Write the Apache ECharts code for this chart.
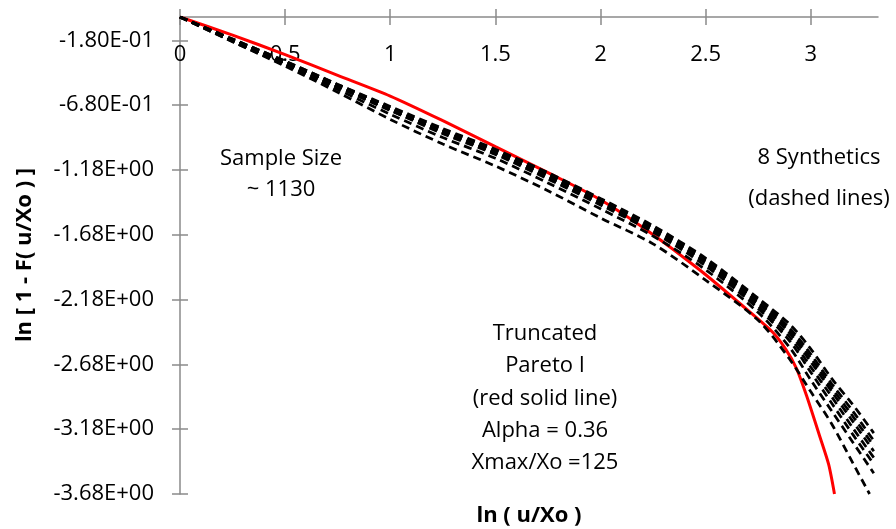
<!DOCTYPE html>
<html>
<head>
<meta charset="utf-8">
<script src="https://cdn.jsdelivr.net/npm/echarts@6/dist/echarts.min.js"></script>
<style>html,body{margin:0;padding:0;background:#fff;}#c{width:896px;height:529px;}</style>
</head>
<body>
<div id="c"></div>
<script>
// ---- data ----
const yTicks = [-3.68, -3.18, -2.68, -2.18, -1.68, -1.18, -0.68, -0.18];
const xTicks = [0, 0.5, 1, 1.5, 2, 2.5, 3];

const redX = [0, 0.25, 0.5, 0.75, 1.0, 1.25, 1.5, 1.75, 2.0, 2.234, 2.471, 2.67, 2.818, 2.88, 2.932, 2.98, 3.042, 3.085, 3.113];
const redY = [0, -0.14, -0.29, -0.45, -0.61, -0.80, -1.00, -1.20, -1.41, -1.66, -1.95, -2.22, -2.43, -2.56, -2.71, -2.92, -3.23, -3.45, -3.68];

const synthX = [0, 0.25, 0.5, 0.75, 1, 1.25, 1.5, 1.75, 2, 2.25, 2.5, 2.75, 2.9, 3.0, 3.1, 3.2, 3.3];
const synthLowX = [0, 0.25, 0.5, 0.75, 1, 1.25, 1.5, 1.75, 2, 2.25, 2.5, 2.75, 2.9, 3.0, 3.1, 3.2, 3.28];
const syn1 = [0, -0.17, -0.34, -0.52, -0.69, -0.86, -1.02, -1.20, -1.40, -1.61, -1.86, -2.17, -2.37, -2.56, -2.79, -2.99, -3.21];
const syn2 = [0, -0.17, -0.34, -0.52, -0.70, -0.87, -1.03, -1.21, -1.41, -1.62, -1.87, -2.18, -2.40, -2.60, -2.83, -3.04, -3.27];
const syn3 = [0, -0.18, -0.35, -0.53, -0.71, -0.88, -1.04, -1.22, -1.42, -1.63, -1.88, -2.20, -2.42, -2.63, -2.86, -3.08, -3.31];
const syn4 = [0, -0.18, -0.35, -0.53, -0.71, -0.88, -1.05, -1.23, -1.43, -1.64, -1.89, -2.21, -2.44, -2.66, -2.89, -3.12, -3.35];
const syn5 = [0, -0.18, -0.36, -0.54, -0.72, -0.89, -1.05, -1.24, -1.44, -1.65, -1.90, -2.23, -2.47, -2.70, -2.93, -3.17, -3.40];
const syn6 = [0, -0.18, -0.36, -0.54, -0.72, -0.90, -1.06, -1.25, -1.45, -1.66, -1.92, -2.25, -2.50, -2.74, -2.98, -3.22, -3.45];
const syn7 = [0, -0.19, -0.37, -0.56, -0.75, -0.93, -1.09, -1.28, -1.48, -1.69, -1.95, -2.28, -2.55, -2.80, -3.04, -3.28, -3.52];
const syn8 = [0, -0.19, -0.38, -0.58, -0.79, -0.98, -1.15, -1.34, -1.55, -1.75, -2.03, -2.34, -2.64, -2.89, -3.14, -3.44, -3.68];

const FONT = '"Open Sans", sans-serif';
const FS = 22;
const AXIS_COLOR = '#8a8a8a';

function zip(xs, ys) { return xs.map((x, i) => [x, ys[i]]); }
function sci(v) {
  const s = Number(v).toExponential(2);
  const parts = s.split('e');
  const e = parseInt(parts[1], 10);
  const d = Math.abs(e);
  return parts[0] + 'E' + (e < 0 ? '-' : '+') + (d < 10 ? '0' : '') + d;
}

const synthSets = [
  [synthX, syn1], [synthX, syn2], [synthX, syn3], [synthX, syn4],
  [synthX, syn5], [synthX, syn6], [synthX, syn7], [synthLowX, syn8]
];

const series = [{
  type: 'line', xAxisIndex: 0, yAxisIndex: 0,
  data: zip(redX, redY), showSymbol: false, smooth: 0.25,
  lineStyle: { color: '#ff0000', width: 3 }, z: 2
}];
synthSets.forEach(s => {
  series.push({
    type: 'line', xAxisIndex: 0, yAxisIndex: 0,
    data: zip(s[0], s[1]), showSymbol: false, smooth: 0.3,
    lineStyle: { color: '#000', width: 2.75, type: [8, 5] }, z: 3
  });
});

function txt(t, x, y, bold, rot) {
  return { type: 'text', x: x, y: y, rotation: rot || 0, style: { text: t, fill: '#000', font: (bold ? 'bold ' : '') + FS + 'px ' + FONT, textAlign: 'center', textVerticalAlign: 'middle' } };
}

const yBase = { type: 'value', min: -3.68, max: 0, position: 'left', splitLine: { show: false } };
const xBase = { type: 'value', min: 0, max: 3.32, position: 'top', splitLine: { show: false } };

const option = {
  animation: false,
  backgroundColor: '#fff',
  grid: { left: 180, right: 18, top: 17, bottom: 35, containLabel: false },
  xAxis: [
    Object.assign({}, xBase, {
      axisLine: { show: true, onZero: false, lineStyle: { color: AXIS_COLOR, width: 1.5 } },
      axisTick: { show: true, inside: false, length: 8, customValues: xTicks, lineStyle: { color: AXIS_COLOR, width: 1.5 } },
      axisLabel: { show: true, inside: true, margin: 27, customValues: xTicks, color: '#000', fontSize: FS, fontFamily: FONT, formatter: v => String(v) }
    }),
    Object.assign({}, xBase, {
      axisLine: { show: false },
      axisTick: { show: true, inside: true, length: 8, customValues: xTicks, lineStyle: { color: AXIS_COLOR, width: 1.5 } },
      axisLabel: { show: false }
    })
  ],
  yAxis: [
    Object.assign({}, yBase, {
      axisLine: { show: true, onZero: false, lineStyle: { color: AXIS_COLOR, width: 1.5 } },
      axisTick: { show: true, inside: false, length: 8, customValues: yTicks, lineStyle: { color: AXIS_COLOR, width: 1.5 } },
      axisLabel: { show: true, margin: 26, customValues: yTicks, color: '#000', fontSize: FS, fontFamily: FONT, formatter: v => sci(v) }
    }),
    Object.assign({}, yBase, {
      axisLine: { show: false },
      axisTick: { show: true, inside: true, length: 8, customValues: yTicks, lineStyle: { color: AXIS_COLOR, width: 1.5 } },
      axisLabel: { show: false }
    })
  ],
  graphic: [
    txt('ln [ 1 - F( u/Xo ) ]', 25, 255, true, Math.PI / 2),
    txt('Sample Size', 281, 159),
    txt('~ 1130', 281, 190),
    txt('8 Synthetics', 819, 158),
    txt('(dashed lines)', 819, 199),
    txt('Truncated', 545, 334),
    txt('Pareto I', 545, 366),
    txt('(red solid line)', 545, 399),
    txt('Alpha = 0.36', 545, 431),
    txt('Xmax/Xo =125', 545, 463),
    txt('ln ( u/Xo )', 529, 516, true)
  ],
  series: series
};

const chart = echarts.init(document.getElementById('c'), null, { renderer: 'canvas' });
chart.setOption(option);
</script>
</body>
</html>
